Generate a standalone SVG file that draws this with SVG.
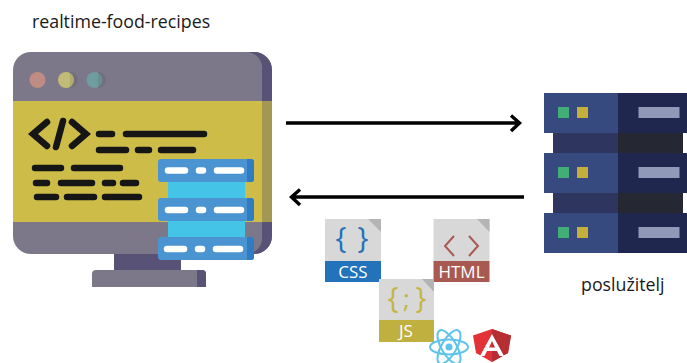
<svg xmlns="http://www.w3.org/2000/svg" width="687" height="363" viewBox="0 0 687 363">
<style>
.t{font-family:"Open Sans","Noto Sans","Liberation Sans",sans-serif;fill:#1a1a1a;font-size:17.8px}
.code{stroke:#161616;stroke-width:6.5;stroke-linecap:round;fill:none}
.wl{stroke:#fff;stroke-width:6.5;stroke-linecap:round;fill:none}
.arr{stroke:#000;stroke-width:3.4;fill:none}
.fold{fill:#b4b4b4}
.page{fill:#d8d8d8}
.ft{font-family:"Open Sans","Noto Sans","Liberation Sans",sans-serif;font-size:17px;fill:#fff;text-anchor:middle}
.g{font-family:"Open Sans","Noto Sans","Liberation Sans",sans-serif;text-anchor:middle;font-size:29px}
</style>
<defs>
<g id="unit">
<rect width="74" height="40" fill="#364a80"/>
<rect x="74" width="69" height="40" fill="#1f274f"/>
<rect x="14" y="14" width="11" height="11" fill="#41ad77"/>
<rect x="33" y="14" width="11" height="11" fill="#c3b03b"/>
<rect x="94.500" y="14" width="41" height="11" fill="#909ab8"/>
</g>
<g id="srv">
<rect width="96" height="23" rx="3" fill="#4a94d1"/>
<path d="M89 0h4a3 3 0 0 1 3 3v17a3 3 0 0 1-3 3h-4z" fill="#2f7cc2"/>
</g>
</defs>
<text class="t" x="32" y="28">realtime-food-recipes</text>
<text class="t" x="581" y="291">poslužitelj</text>
<g id="client">
<rect x="114" y="250" width="67" height="24" fill="#595277"/>
<path d="M92 287v-13a4 4 0 0 1 4-4h106a4 4 0 0 1 4 4v13z" fill="#7c7889"/>
<path d="M197 270h5a4 4 0 0 1 4 4v13h-9z" fill="#595277"/>
<rect x="13" y="52" width="259" height="202" rx="18" fill="#7c7889"/>
<path d="M246 52h8a18 18 0 0 1 18 18v166a18 18 0 0 1-18 18h-8a16 16 0 0 0 16-18V70a16 16 0 0 0-16-18z" fill="#595277"/>
<rect x="13" y="101" width="249" height="121" fill="#cdbd48"/>
<rect x="262" y="101" width="10" height="121" fill="#a39850"/>
<circle cx="37.500" cy="80" r="8" fill="#bf8c83"/>
<circle cx="66" cy="80" r="8" fill="#c1bb78"/>
<circle cx="94.500" cy="80" r="8" fill="#6f9c9e"/>
<path d="M70 72a8 8 0 0 1 0 16zM98 72a8 8 0 0 1 0 16z" fill="#000" opacity=".08"/>
<path class="code" d="M47 122L33 134L47 146M72 122L86 134L72 146M63 121L56 147"/>
<path class="code" d="M99 134h13M126 134h78M99 150h27M138 150h11M161 150h32M35 168h26M74 168h46M36 183h11M61 183h31M105 183h8M123 183h13M37 197h19M67 197h27M105 197h34"/>
<rect x="168" y="175" width="77" height="70" fill="#44c4e7"/>
<use href="#srv" x="158" y="159"/>
<use href="#srv" x="158" y="198"/>
<use href="#srv" x="158" y="237"/>
<path class="wl" d="M168 170.500h17M199 170.500h4M217 170.500h24M168 210h17M199 210h4M217 210h24M167 249h17M198 249h4M216 249h24"/>
</g>
<g id="server">
<rect x="553" y="133" width="65" height="20" fill="#2e365f"/>
<rect x="618" y="133" width="65" height="20" fill="#252832"/>
<rect x="553" y="193" width="65" height="20" fill="#2e365f"/>
<rect x="618" y="193" width="65" height="20" fill="#252832"/>
<use href="#unit" x="544" y="93"/>
<use href="#unit" x="544" y="153"/>
<use href="#unit" x="544" y="213"/>
</g>
<g id="connectors">
<path class="arr" d="M286 123H519M511 115.500L519.500 123L511 131"/>
<path class="arr" d="M524 197H292M300 189.500L291.500 197L300 205"/>
</g>
<g id="css">
<rect class="page" x="325" y="219" width="56" height="42"/>
<path class="fold" d="M368 219h13v13z"/>
<rect x="325" y="261" width="56" height="21" fill="#2273b9"/>
<text class="ft" x="353" y="278">CSS</text>
<text class="g" x="341" y="248" fill="#2273b9">{</text>
<text class="g" x="363" y="248" fill="#2273b9">}</text>
</g>
<g id="html">
<rect class="page" x="433.500" y="219" width="56" height="42"/>
<path class="fold" d="M477 219h12.500v13z"/>
<rect x="433.500" y="261" width="56" height="21" fill="#a85a52"/>
<text class="ft" x="461.500" y="278">HTML</text>
<path d="M454 236l-9 10 9 10M469 236l9 10-9 10" fill="none" stroke="#a85a52" stroke-width="2"/>
</g>
<g id="js">
<rect class="page" x="379" y="279" width="55" height="41"/>
<path class="fold" d="M422 279h12v13z"/>
<rect x="379" y="320" width="55" height="22" fill="#bfb03f"/>
<text class="ft" x="406" y="337">JS</text>
<text class="g" x="393" y="308" fill="#c4b543">{</text>
<text class="g" x="406.500" y="308" fill="#c4b543" style="font-size:26px">;</text>
<text class="g" x="421" y="308" fill="#c4b543">}</text>
</g>
<g id="react" fill="none" stroke="#5fc3ea" stroke-width="2">
<ellipse cx="449" cy="347" rx="19" ry="7.500"/>
<ellipse cx="449" cy="347" rx="19" ry="7.500" transform="rotate(60 449 347)"/>
<ellipse cx="449" cy="347" rx="19" ry="7.500" transform="rotate(120 449 347)"/>
<circle cx="449" cy="347" r="3.500" fill="#5fc3ea" stroke="none"/>
</g>
<g id="angular">
<path d="M492 329L473 335.500L476 353L492 362L508 353L511 335.500z" fill="#e23237"/>
<path d="M492 329V362L508 353L511 335.500z" fill="#b52e31"/>
<path d="M492 334L480 356H484.500L487 351H497L499.500 356H504zM489 347.500L492 341L495 347.500z" fill="#fff" fill-rule="evenodd"/>
</g>
</svg>
